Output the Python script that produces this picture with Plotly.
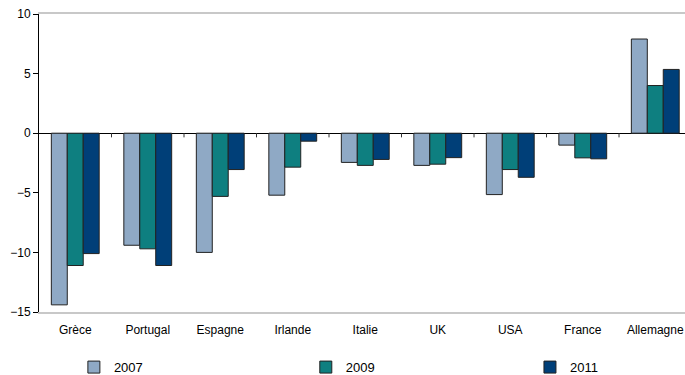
import plotly.graph_objects as go

categories = ["Grèce", "Portugal", "Espagne", "Irlande", "Italie", "UK", "USA", "France", "Allemagne"]
years = ["2007", "2009", "2011"]
v2007 = [-14.4, -9.4, -10.0, -5.2, -2.45, -2.7, -5.15, -1.0, 7.9]
v2009 = [-11.1, -9.7, -5.3, -2.85, -2.7, -2.6, -3.05, -2.07, 4.0]
v2011 = [-10.1, -11.1, -3.05, -0.67, -2.2, -2.05, -3.7, -2.15, 5.35]
yticks = [-15, -10, -5, 0, 5, 10]

series = [v2007, v2009, v2011]
colors = ["#8fa9c5", "#0e7f80", "#003f78"]
legends = ["legend", "legend2", "legend3"]
legend_x = [0.054, 0.413, 0.76]

fig = go.Figure()
for name, vals, col, lg in zip(years, series, colors, legends):
    fig.add_trace(go.Bar(
        x=list(range(len(categories))), y=vals, name=name,
        marker=dict(color=col, line=dict(color="#222222", width=1)),
        legend=lg,
    ))

# small category-boundary ticks on the zero line
for i in range(len(categories)):
    fig.add_shape(type="line", xref="x", yref="y", x0=i + 0.5, x1=i + 0.5, y0=0, y1=-0.35,
                  line=dict(color="#333333", width=1))

font = dict(family="Liberation Sans, Arial, sans-serif", size=12, color="#000000")
layout_legends = {}
for lg, lx in zip(legends, legend_x):
    layout_legends[lg] = dict(x=lx, y=-0.185, xanchor="left", yanchor="middle",
                              orientation="h", bgcolor="rgba(0,0,0,0)",
                              font=dict(family="Liberation Sans, Arial, sans-serif", size=13, color="#000"))

fig.update_layout(
    width=685, height=375,
    margin=dict(l=39, r=0, t=14, b=63, autoexpand=False),
    paper_bgcolor="white", plot_bgcolor="white",
    font=font,
    barmode="group", bargap=0.34, bargroupgap=0,
    showlegend=True,
    **layout_legends,
)
fig.update_xaxes(
    tickmode="array", tickvals=list(range(len(categories))), ticktext=categories,
    range=[-0.5, 8.41], showgrid=False, zeroline=False,
    showline=True, linecolor="#c8c8c8", linewidth=2, mirror=True,
    ticks="", tickfont=font, ticklabelstandoff=6, automargin=False,
)
fig.update_yaxes(
    range=[-15, 10], tickvals=yticks, showgrid=False,
    zeroline=True, zerolinecolor="#000000", zerolinewidth=1,
    showline=True, linecolor="#000000", linewidth=1,
    ticks="outside", ticklen=5, tickcolor="#000000", tickfont=font, automargin=False,
)

fig.write_html("out.html")
